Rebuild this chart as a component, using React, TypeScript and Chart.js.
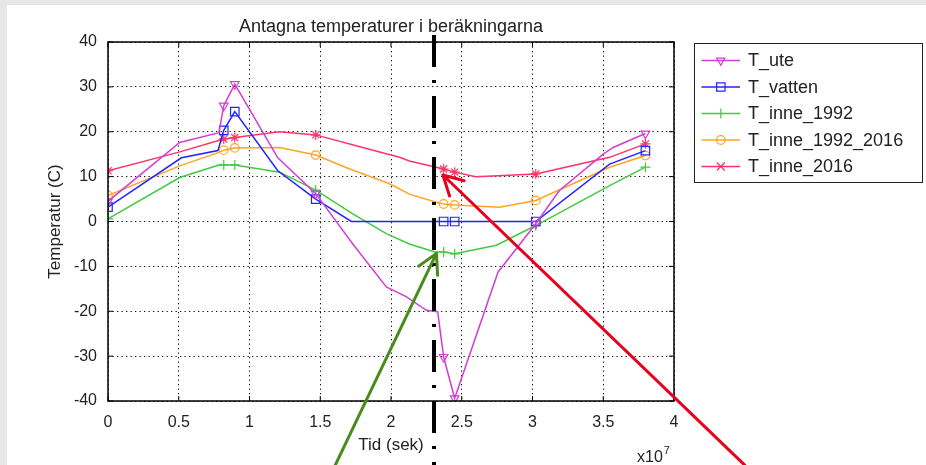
import React, { useEffect, useRef } from 'react';
import { Chart, registerables } from 'chart.js';

Chart.register(...registerables);

// Time axis values are in units of 10^7 s
const TITLE = 'Antagna temperaturer i beräkningarna';
const X_TITLE = 'Tid (sek)';
const Y_TITLE = 'Temperatur (C)';
const SERIES_NAMES = ['T_ute', 'T_vatten', 'T_inne_1992', 'T_inne_1992_2016', 'T_inne_2016'];

const uteX = [0, 0.507, 0.784, 0.818, 0.896, 1.2, 1.468, 1.73, 1.967, 2.11, 2.25, 2.33, 2.372, 2.45, 2.756, 3.023, 3.19, 3.5, 3.57, 3.798];
const uteY = [4.5, 17.6, 19.8, 25.8, 30.6, 14.2, 6.2, -5, -14.6, -16.8, -19.8, -20.1, -30.2, -39.4, -11.3, -0.5, 6.9, 15, 16.5, 19.6];
const uteMark = [1, 0, 0, 1, 1, 0, 1, 0, 0, 0, 0, 0, 1, 1, 0, 1, 0, 0, 0, 1];

const vattenX = [0, 0.519, 0.777, 0.818, 0.896, 1.2, 1.468, 1.72, 2.372, 2.45, 3.023, 3.545, 3.798];
const vattenY = [3.2, 14.2, 15.8, 20.3, 24.5, 11.3, 5, 0, 0, 0, 0, 12.8, 15.8];
const vattenMark = [1, 0, 0, 1, 1, 0, 1, 0, 1, 1, 1, 0, 1];

const inne1992X = [0, 0.507, 0.784, 0.818, 0.896, 1.072, 1.213, 1.468, 1.73, 1.967, 2.13, 2.31, 2.372, 2.45, 2.745, 3.023, 3.545, 3.798];
const inne1992Y = [0.6, 9.8, 12.6, 12.6, 12.6, 11.7, 11, 7, 1.7, -2.7, -5, -6.8, -6.8, -7.2, -5.3, -0.9, 8, 12.1];
const inne1992Mark = [1, 0, 0, 1, 1, 0, 0, 1, 0, 0, 0, 0, 1, 1, 0, 1, 0, 1];

const inne19922016X = [0, 0.507, 0.784, 0.818, 0.896, 1.213, 1.468, 1.708, 1.99, 2.13, 2.32, 2.372, 2.45, 2.768, 3.023, 3.545, 3.798];
const inne19922016Y = [5.8, 12.4, 15.4, 15.9, 16.4, 16.5, 14.8, 11.7, 8.4, 6.1, 4.3, 3.9, 3.7, 3.2, 4.7, 12.1, 14.7];
const inne19922016Mark = [1, 0, 0, 1, 1, 0, 1, 0, 0, 0, 0, 1, 1, 0, 1, 0, 1];

const inne2016X = [0, 0.495, 0.818, 0.896, 1.213, 1.468, 1.8, 2.06, 2.13, 2.372, 2.45, 2.6, 3.023, 3.545, 3.798];
const inne2016Y = [11.3, 15.4, 18.4, 18.7, 20, 19.3, 16.5, 14.3, 13.5, 11.7, 11, 10, 10.6, 14.3, 17.3];
const inne2016Mark = [1, 0, 1, 1, 0, 1, 0, 0, 0, 1, 1, 0, 1, 0, 1];

const X_TICK_VALUES = [0, 0.5, 1, 1.5, 2, 2.5, 3, 3.5, 4];
const Y_TICK_VALUES = [-40, -30, -20, -10, 0, 10, 20, 30, 40];

// Annotations (data units)
const MARK_LINE_X = 2.304;
const MARK_LINE_Y = [41.56, -56];
const GREEN_ARROW = { from: [1.606, -54.3], to: [2.321, -7.1] };
const RED_ARROW = { from: [4.5, -54.3], to: [2.367, 10.36] };

const FONT = '"Liberation Sans", Arial, Helvetica, sans-serif';
const TEXT = '#222';
const COLORS = ['#d23fd2', '#2323ff', '#3fcc3f', '#ffa424', '#ff3366'];

const pts = (xs: number[], ys: number[]) => xs.map((x, i) => ({ x, y: ys[i] }));

function drawMarker(ctx: CanvasRenderingContext2D, kind: string, x: number, y: number, color: string) {
  ctx.save();
  ctx.strokeStyle = color;
  ctx.lineWidth = 1.2;
  ctx.setLineDash([]);
  ctx.beginPath();
  if (kind === 'triDown') {
    const r = 4.8;
    ctx.moveTo(x - r * 0.866, y - r * 0.5);
    ctx.lineTo(x + r * 0.866, y - r * 0.5);
    ctx.lineTo(x, y + r);
    ctx.closePath();
  } else if (kind === 'rect') {
    const s = 4.2;
    ctx.rect(x - s, y - s, 2 * s, 2 * s);
  } else if (kind === 'cross') {
    ctx.moveTo(x - 5, y); ctx.lineTo(x + 5, y);
    ctx.moveTo(x, y - 5); ctx.lineTo(x, y + 5);
  } else if (kind === 'circle') {
    ctx.arc(x, y, 4.3, 0, Math.PI * 2);
  } else {
    ctx.moveTo(x - 4, y - 4); ctx.lineTo(x + 4, y + 4);
    ctx.moveTo(x + 4, y - 4); ctx.lineTo(x - 4, y + 4);
  }
  ctx.stroke();
  ctx.restore();
}

const LEGEND_MARKERS = ['triDown', 'rect', 'cross', 'circle', 'crossRot'];

const overlayPlugin = {
  id: 'overlay',
  afterDraw(chart: any) {
    const { ctx, chartArea: a, scales } = chart;
    const xs = scales.x, ys = scales.y;
    ctx.save();
    // axes box
    ctx.strokeStyle = '#000';
    ctx.lineWidth = 1.5;
    ctx.setLineDash([]);
    ctx.strokeRect(a.left, a.top, a.right - a.left, a.bottom - a.top);
    // inward tick marks
    ctx.lineWidth = 1;
    ctx.beginPath();
    X_TICK_VALUES.forEach(v => {
      const px = xs.getPixelForValue(v);
      ctx.moveTo(px, a.bottom); ctx.lineTo(px, a.bottom - 5);
      ctx.moveTo(px, a.top); ctx.lineTo(px, a.top + 5);
    });
    Y_TICK_VALUES.forEach(v => {
      const py = ys.getPixelForValue(v);
      ctx.moveTo(a.left, py); ctx.lineTo(a.left + 5, py);
      ctx.moveTo(a.right, py); ctx.lineTo(a.right - 5, py);
    });
    ctx.stroke();

    // x10^7 multiplier
    ctx.fillStyle = TEXT;
    ctx.textBaseline = 'alphabetic';
    ctx.textAlign = 'left';
    ctx.font = `16px ${FONT}`;
    const mx = a.right - 37;
    ctx.fillText('x10', mx, 457);
    const w = ctx.measureText('x10').width;
    ctx.font = `11px ${FONT}`;
    ctx.fillText('7', mx + w + 1, 449);

    // dash-dot marker line
    const lx = xs.getPixelForValue(MARK_LINE_X);
    ctx.strokeStyle = '#000';
    ctx.lineWidth = 4;
    ctx.setLineDash([32, 13, 3, 13]);
    ctx.beginPath();
    ctx.moveTo(lx, ys.getPixelForValue(MARK_LINE_Y[0]));
    ctx.lineTo(lx, ys.getPixelForValue(MARK_LINE_Y[1]));
    ctx.stroke();
    ctx.setLineDash([]);

    // arrows
    const arrow = (arr: any, color: string) => {
      const x0 = xs.getPixelForValue(arr.from[0]), y0 = ys.getPixelForValue(arr.from[1]);
      const x1 = xs.getPixelForValue(arr.to[0]), y1 = ys.getPixelForValue(arr.to[1]);
      ctx.strokeStyle = color;
      ctx.lineWidth = 3;
      ctx.lineCap = 'round';
      ctx.beginPath();
      ctx.moveTo(x0, y0); ctx.lineTo(x1, y1);
      const ang = Math.atan2(y0 - y1, x0 - x1);
      const L = 22, h = 0.5;
      ctx.moveTo(x1, y1); ctx.lineTo(x1 + L * Math.cos(ang + h), y1 + L * Math.sin(ang + h));
      ctx.moveTo(x1, y1); ctx.lineTo(x1 + L * Math.cos(ang - h), y1 + L * Math.sin(ang - h));
      ctx.stroke();
    };
    arrow(GREEN_ARROW, '#4a8c1c');
    arrow(RED_ARROW, '#e8001c');

    // legend
    ctx.lineCap = 'butt';
    ctx.strokeStyle = '#222';
    ctx.lineWidth = 1;
    ctx.strokeRect(687.5, 38.5, 228, 139);
    ctx.font = `18px ${FONT}`;
    ctx.textBaseline = 'middle';
    SERIES_NAMES.forEach((name, i) => {
      const cy = 55.5 + i * 26.5;
      ctx.strokeStyle = COLORS[i];
      ctx.lineWidth = 1.5;
      ctx.beginPath();
      ctx.moveTo(694.5, cy); ctx.lineTo(733, cy);
      ctx.stroke();
      drawMarker(ctx, LEGEND_MARKERS[i], 713.8, cy, COLORS[i]);
      ctx.fillStyle = TEXT;
      ctx.fillText(name, 741, cy + 1);
    });
    ctx.restore();
  },
};

function makeDataset(label: string, xs: number[], ys: number[], marks: number[], color: string, style: string, radius: number, rotation = 0) {
  return {
    label,
    data: pts(xs, ys),
    borderColor: color,
    borderWidth: 1.5,
    backgroundColor: 'rgba(0,0,0,0)',
    pointBackgroundColor: 'rgba(0,0,0,0)',
    pointBorderColor: color,
    pointBorderWidth: 1.2,
    pointStyle: style,
    pointRotation: rotation,
    pointRadius: marks.map(m => (m ? radius : 0)),
    pointHoverRadius: marks.map(m => (m ? radius : 0)),
    tension: 0,
    fill: false,
  };
}

export default function App() {
  const ref = useRef<HTMLCanvasElement | null>(null);
  useEffect(() => {
    if (!ref.current) return;
    const tickFont = { family: FONT, size: 16, weight: 'normal' as const };
    const titleFont = { family: FONT, size: 17, weight: 'normal' as const };
    const mainTitleFont = { family: FONT, size: 18, weight: 'normal' as const };
    const chart = new Chart(ref.current, {
      type: 'line',
      data: {
        datasets: [
          makeDataset(SERIES_NAMES[0], uteX, uteY, uteMark, COLORS[0], 'triangle', 5, 180),
          makeDataset(SERIES_NAMES[1], vattenX, vattenY, vattenMark, COLORS[1], 'rect', 6),
          makeDataset(SERIES_NAMES[2], inne1992X, inne1992Y, inne1992Mark, COLORS[2], 'cross', 5),
          makeDataset(SERIES_NAMES[3], inne19922016X, inne19922016Y, inne19922016Mark, COLORS[3], 'circle', 4.3),
          makeDataset(SERIES_NAMES[4], inne2016X, inne2016Y, inne2016Mark, COLORS[4], 'star', 5),
        ] as any,
      },
      options: {
        responsive: false,
        animation: false,
        devicePixelRatio: 1,
        events: [],
        layout: { padding: { top: 11, right: 252, bottom: 0, left: 0 } },
        plugins: {
          legend: { display: false },
          tooltip: { enabled: false },
          title: {
            display: true,
            text: TITLE,
            fullSize: false,
            font: mainTitleFont,
            color: TEXT,
            padding: { top: 0, bottom: 4.4 },
          },
        },
        scales: {
          x: {
            type: 'linear',
            min: 0,
            max: 4,
            ticks: {
              stepSize: 0.5,
              callback: (v: any) => String(v),
              font: tickFont,
              color: TEXT,
              padding: 12,
              maxRotation: 0,
              autoSkip: false,
            },
            grid: { color: '#111', lineWidth: 1, drawTicks: false },
            border: { display: false, dash: [1.3, 3.2] },
            title: { display: true, text: X_TITLE, font: titleFont, color: TEXT, padding: { top: 0, bottom: 9.5 } },
            afterFit: (s: any) => { s.height = 64; },
          },
          y: {
            type: 'linear',
            min: -40,
            max: 40,
            ticks: { stepSize: 10, font: tickFont, color: TEXT, padding: 11 },
            grid: { color: '#111', lineWidth: 1, drawTicks: false },
            border: { display: false, dash: [1.3, 3.2] },
            title: { display: true, text: Y_TITLE, font: titleFont, color: TEXT, padding: { top: 37.8, bottom: 0 } },
            afterFit: (s: any) => { s.width = 101; },
          },
        },
      } as any,
      plugins: [overlayPlugin],
    });
    return () => chart.destroy();
  }, []);

  return (
    <div style={{ position: 'fixed', left: 0, top: 0, width: 926, height: 465, background: '#e7e7e7', overflow: 'hidden' }}>
      <div style={{ position: 'absolute', left: 7, top: 5, width: 919, height: 460, background: '#fff' }}>
        <canvas ref={ref} width={919} height={460} style={{ width: 919, height: 460, display: 'block' }} />
      </div>
    </div>
  );
}
